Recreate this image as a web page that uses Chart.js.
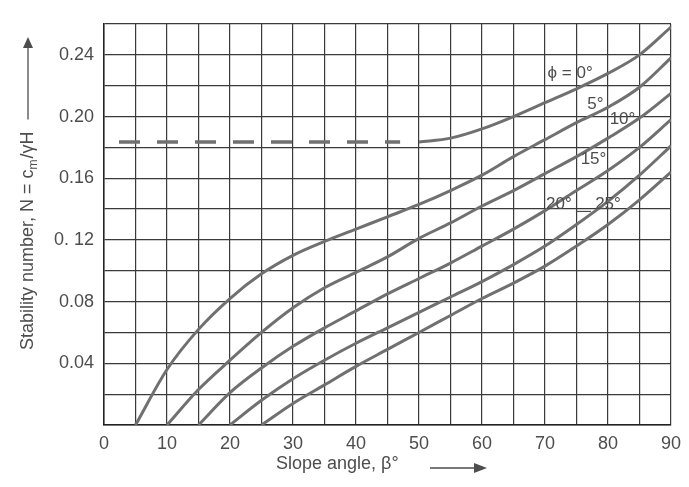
<!DOCTYPE html>
<html>
<head>
<meta charset="utf-8">
<script src="https://cdn.jsdelivr.net/npm/chart.js@4/dist/chart.umd.min.js"></script>
<style>
  html, body { margin: 0; padding: 0; background: #fff; }
  #wrap { width: 689px; height: 487px; }
</style>
</head>
<body>
<div id="wrap"><canvas id="stabilityChart" width="689" height="487"></canvas></div>
<script>
// Taylor stability chart, N = cm / (gamma H) vs slope angle beta
const betaDeg = [0, 5, 10, 15, 20, 25, 30, 35, 40, 45, 50, 55, 60, 65, 70, 75, 80, 85, 90];

const phi0 = [null, null, null, null, null, null, null, null, null, null,
  0.1835, 0.186, 0.192, 0.200, 0.209, 0.218, 0.228, 0.240, 0.258];
const phi5 = [null, 0, 0.036, 0.062, 0.082, 0.098, 0.110, 0.119, 0.127, 0.135,
  0.143, 0.152, 0.162, 0.174, 0.185, 0.196, 0.206, 0.219, 0.238];
const phi10 = [null, null, 0, 0.023, 0.042, 0.060, 0.076, 0.089, 0.099, 0.109,
  0.121, 0.131, 0.142, 0.152, 0.163, 0.174, 0.186, 0.199, 0.215];
const phi15 = [null, null, null, 0, 0.021, 0.037, 0.051, 0.063, 0.074, 0.085,
  0.095, 0.105, 0.116, 0.127, 0.139, 0.152, 0.165, 0.180, 0.198];
const phi20 = [null, null, null, null, 0, 0.016, 0.030, 0.042, 0.053, 0.063,
  0.073, 0.083, 0.093, 0.104, 0.116, 0.130, 0.145, 0.162, 0.181];
const phi25 = [null, null, null, null, null, 0, 0.014, 0.026, 0.038, 0.049,
  0.060, 0.071, 0.082, 0.092, 0.103, 0.116, 0.130, 0.146, 0.164];

// phi = 0 dashed part (deep failure limit)
const dashBeta = [0, 47];
const dashN = [0.1835, 0.1835];

// curve labels
const labelText = ["\u03D5 = 0\u00B0", "5\u00B0", "10\u00B0", "15\u00B0", "20\u00B0", "25\u00B0"];
const labelBeta = [74, 78, 82.3, 77.7, 72.2, 80];
const labelN = [0.228, 0.208, 0.198, 0.172, 0.143, 0.143];

const yTickText = { 4: "0.04", 8: "0.08", 12: "0. 12", 16: "0.16", 20: "0.20", 24: "0.24" };

const FONT = "'Liberation Sans', Arial, sans-serif";
const INK = "#4d4d4d";
const CURVE = "#707070";
const GRID = "#3a3a3a";

function toPoints(arr) {
  return betaDeg.map((b, i) => ({ x: b, y: arr[i] })).filter((p) => p.y !== null);
}

function curve(arr) {
  return {
    data: toPoints(arr),
    borderColor: CURVE,
    borderWidth: 3,
    pointRadius: 0,
    cubicInterpolationMode: "monotone",
    fill: false,
  };
}

const dashed = {
  data: dashBeta.map((b, i) => ({ x: b, y: dashN[i] })),
  borderColor: CURVE,
  borderWidth: 3.5,
  borderDash: [21, 17],
  borderDashOffset: 23,
  pointRadius: 0,
  fill: false,
};

function arrowHead(ctx, x, y, dir) {
  ctx.beginPath();
  if (dir === "up") {
    ctx.moveTo(x, y);
    ctx.lineTo(x - 5, y + 11);
    ctx.lineTo(x + 5, y + 11);
  } else {
    ctx.moveTo(x, y);
    ctx.lineTo(x - 13, y - 5);
    ctx.lineTo(x - 13, y + 5);
  }
  ctx.closePath();
  ctx.fill();
}

const annotations = {
  id: "annotations",
  afterDraw(chart) {
    const ctx = chart.ctx;
    const xs = chart.scales.x;
    const ys = chart.scales.y;
    ctx.save();
    ctx.fillStyle = INK;
    ctx.strokeStyle = INK;

    // curve labels
    ctx.font = "17px " + FONT;
    ctx.textAlign = "center";
    ctx.textBaseline = "middle";
    labelText.forEach((t, i) => {
      ctx.fillText(t, xs.getPixelForValue(labelBeta[i]), ys.getPixelForValue(labelN[i]));
    });
    // short underscore between the 20 and 25 labels
    const ly = ys.getPixelForValue(labelN[4]) + 7;
    ctx.lineWidth = 1.2;
    ctx.beginPath();
    ctx.moveTo(xs.getPixelForValue(labelBeta[4]) + 17, ly);
    ctx.lineTo(xs.getPixelForValue(labelBeta[5]) - 17, ly);
    ctx.stroke();

    // x axis title + arrow
    ctx.font = "18px " + FONT;
    ctx.textAlign = "left";
    ctx.fillText("Slope angle, \u03B2\u00B0", 276, 464);
    ctx.lineWidth = 1.3;
    ctx.beginPath();
    ctx.moveTo(430, 468);
    ctx.lineTo(476, 468);
    ctx.stroke();
    arrowHead(ctx, 487, 468, "right");

    // y axis title + arrow (rotated)
    ctx.save();
    ctx.translate(28, 0);
    ctx.rotate(-Math.PI / 2);
    ctx.textBaseline = "middle";
    ctx.textAlign = "left";
    let pos = -350;
    const partA = "Stability number, N = c";
    ctx.font = "18px " + FONT;
    ctx.fillText(partA, pos, 0);
    pos += ctx.measureText(partA).width;
    ctx.font = "12px " + FONT;
    ctx.fillText("m", pos, 6);
    pos += ctx.measureText("m").width;
    ctx.font = "18px " + FONT;
    ctx.fillText("/\u03B3H", pos + 1, 0);
    pos += ctx.measureText("/\u03B3H").width + 1;
    ctx.restore();

    const textTop = -pos;
    ctx.lineWidth = 1.3;
    ctx.beginPath();
    ctx.moveTo(28, textTop - 12);
    ctx.lineTo(28, 48);
    ctx.stroke();
    arrowHead(ctx, 28, 37, "up");

    ctx.restore();
  },
};

new Chart(document.getElementById("stabilityChart"), {
  type: "line",
  data: {
    datasets: [dashed, curve(phi0), curve(phi5), curve(phi10), curve(phi15), curve(phi20), curve(phi25)],
  },
  options: {
    responsive: false,
    animation: false,
    layout: { padding: { left: 0, right: 12, top: 24, bottom: 0 } },
    plugins: { legend: { display: false }, tooltip: { enabled: false } },
    scales: {
      x: {
        type: "linear",
        min: 0,
        max: 90,
        afterFit: (s) => { s.height = 62; },
        grid: { color: GRID, lineWidth: 1.2, drawTicks: false },
        border: { color: "#222", width: 1.5 },
        ticks: {
          stepSize: 5,
          padding: 8,
          color: INK,
          font: { family: FONT, size: 18 },
          autoSkip: false,
          maxRotation: 0,
          callback: (v) => (v % 10 === 0 ? String(v) : ""),
        },
      },
      y: {
        min: 0,
        max: 0.26,
        afterFit: (s) => { s.width = 104; },
        grid: { color: GRID, lineWidth: 1.2, drawTicks: false },
        border: { color: "#222", width: 1.5 },
        ticks: {
          stepSize: 0.02,
          padding: 10,
          color: INK,
          font: { family: FONT, size: 18 },
          autoSkip: false,
          callback: (v) => yTickText[Math.round(v * 100)] || "",
        },
      },
    },
  },
  plugins: [annotations],
});
</script>
</body>
</html>
